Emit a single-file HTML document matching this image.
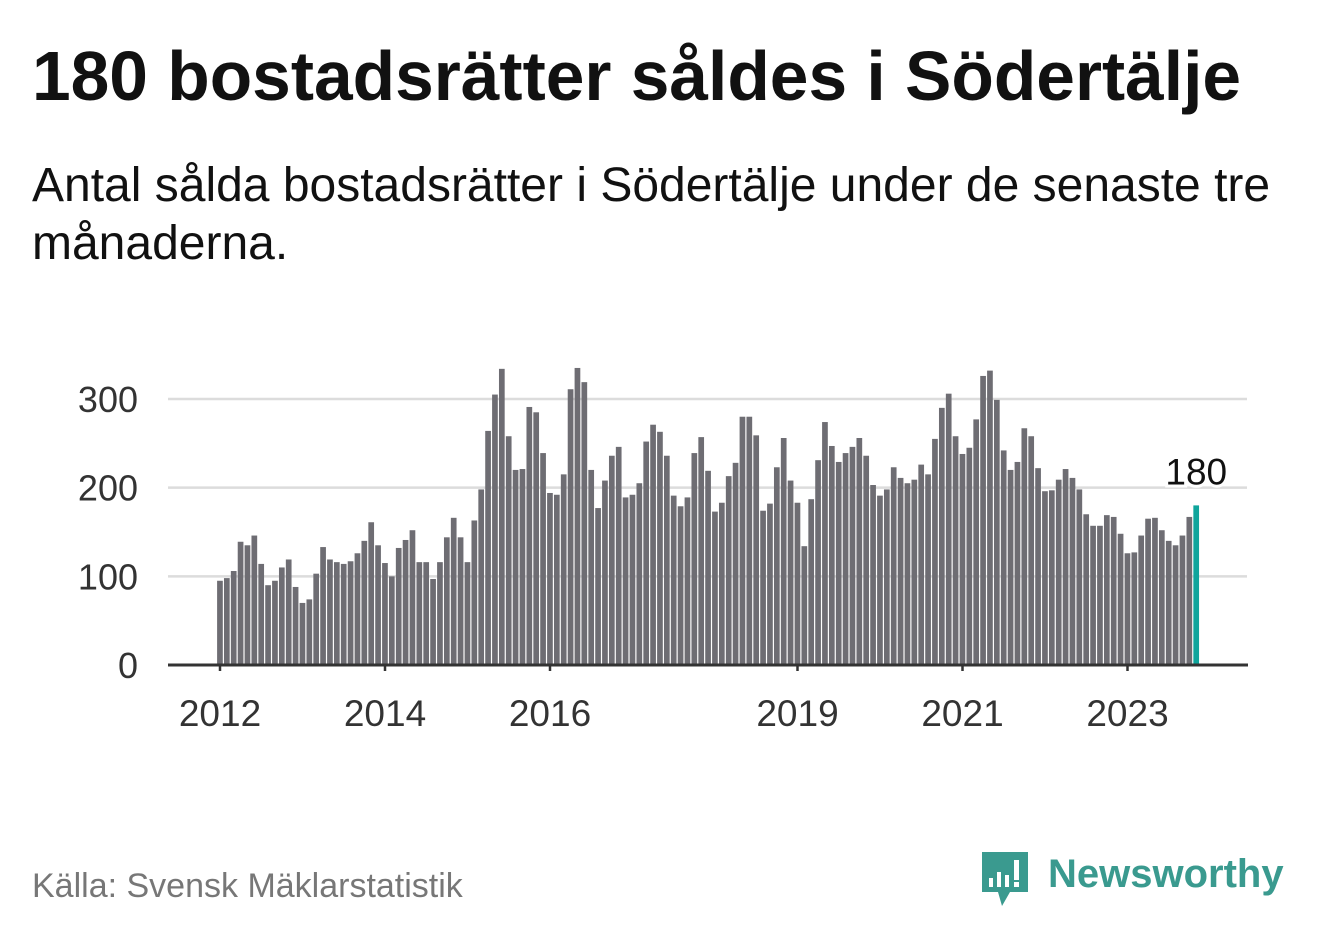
<!DOCTYPE html>
<html><head><meta charset="utf-8"><style>
body{margin:0;background:#fff;width:1322px;height:939px;overflow:hidden;font-family:"Liberation Sans","DejaVu Sans",sans-serif;}
#title{position:absolute;left:32px;top:42px;font-size:69.5px;line-height:1;font-weight:bold;color:#111;margin:0;white-space:nowrap}
#sub{position:absolute;left:32px;top:157px;font-size:48px;color:#111;line-height:58px;width:1280px}
#src{position:absolute;left:32px;top:869px;font-size:34px;line-height:1;color:#777}
#logo{position:absolute;left:980px;top:850px}
</style></head><body>
<h1 id="title">180 bostadsrätter såldes i Södertälje</h1>
<div id="sub">Antal sålda bostadsrätter i Södertälje under de senaste tre månaderna.</div>
<svg id="chart" width="1322" height="939" style="position:absolute;left:0;top:0"></svg>
<div id="src">Källa: Svensk Mäklarstatistik</div>
<div id="logo">
<svg width="320" height="60">
<path d="M2 2 H48 V42 H30 L22 56 L18 42 H2 Z" fill="#3a9a8f"/>
<rect x="9" y="28" width="4" height="9" fill="#fff"/><rect x="17" y="22" width="4" height="15" fill="#fff"/><rect x="25" y="25" width="4" height="12" fill="#fff"/><rect x="34" y="10" width="5" height="20" fill="#fff"/><rect x="34" y="32" width="5" height="5" fill="#fff"/>
<text x="68" y="37" font-size="40" font-weight="bold" fill="#3a9a8f" font-family="Liberation Sans, sans-serif">Newsworthy</text>
</svg></div>
<script>
const values=[95,98,106,139,135,146,114,90,95,110,119,88,70,74,103,133,119,116,114,117,126,140,161,135,115,100,132,141,152,116,116,97,116,144,166,144,116,
163,198,264,305,334,258,220,221,291,285,239,194,192,215,311,335,319,220,177,208,236,246,189,192,205,252,271,263,236,191,179,189,239,257,219,
173,183,213,228,280,280,259,174,182,223,256,208,183,134,187,231,274,247,229,239,246,256,236,203,191,198,223,211,205,209,226,215,255,290,306,258,238,245,
277,326,332,299,242,220,229,267,258,222,196,197,209,221,211,198,170,157,157,169,167,148,126,127,146,165,166,152,140,135,146,167,180];
const yTicks=[0,100,200,300];
const xTickYears=[2012,2014,2016,2019,2021,2023];
const startYear=2012;
const NS="http://www.w3.org/2000/svg";
const svg=document.getElementById('chart');
const y=v=>665-v*0.8867;
const x=i=>220+i*6.875;
function mk(t,a){const e=document.createElementNS(NS,t);for(const k in a)e.setAttribute(k,a[k]);svg.appendChild(e);return e;}
yTicks.forEach(t=>{
 if(t>0){const g=mk('line',{x1:168,x2:1247,y1:y(t),y2:y(t),stroke:'#dcdcdc','stroke-width':2.5});
 
 }
 const l=mk('text',{x:138,y:y(t)+13,'text-anchor':'end','font-size':36,fill:'#333'});
 l.textContent=t;
 
 
});
values.forEach((v,i)=>{
 const last=i===values.length-1;
 const r=mk('rect',{x:x(i)-2.9,y:y(v),width:5.7,height:665-y(v),fill:last?'#0fa59c':'#6e6d73'});
 
 
});
const li=values.length-1;
const lab=mk('text',{x:x(li),y:y(values[li])-21,'text-anchor':'middle','font-size':37,fill:'#111',stroke:'#fff','stroke-width':6,'paint-order':'stroke'});
lab.textContent=values[li];


const ax=mk('line',{x1:168,x2:1248,y1:665,y2:665,stroke:'#333','stroke-width':3});


xTickYears.forEach(yr=>{
 const px=x((yr-startYear)*12);
 const tk=mk('line',{x1:px,x2:px,y1:665,y2:671,stroke:'#333','stroke-width':2.5});
 
 
 const t=mk('text',{x:px,y:726,'text-anchor':'middle','font-size':37,fill:'#333'});
 t.textContent=yr;
 
 
});
</script>
</body></html>
